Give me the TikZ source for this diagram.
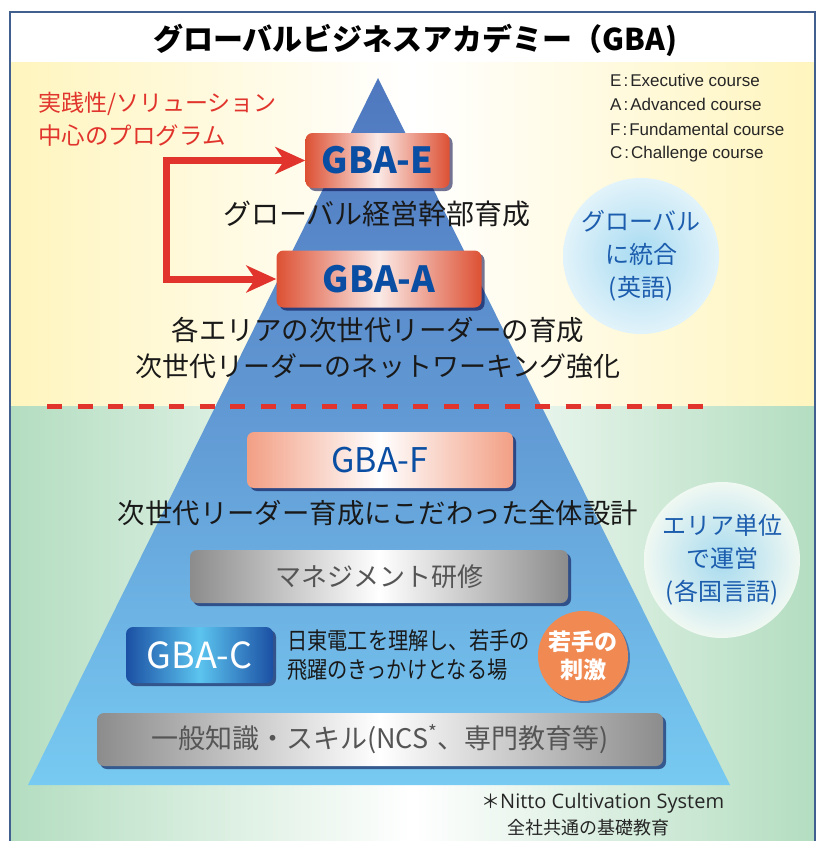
\documentclass[tikz,border=0pt]{standalone}
\usepackage{fontspec}
\usetikzlibrary{shadows,arrows.meta,calc}
\newfontfamily\jp{Noto Sans CJK JP}
\newfontfamily\jpn[FakeStretch=0.86]{Noto Sans CJK JP}
\newfontfamily\legendfont{Liberation Sans}
\newfontfamily\footfont{Open Sans}
\newcommand{\fsz}[2][]{\fontsize{#2}{#2}\selectfont}
\definecolor{framecol}{HTML}{41608F}
\definecolor{yellowbg}{HTML}{FFF5BE}
\definecolor{greenbg}{HTML}{B3DDC0}
\definecolor{pyrtop}{HTML}{4F78BF}
\definecolor{pyrmid}{HTML}{629BD5}
\definecolor{pyrbot}{HTML}{77CAF2}
\definecolor{redline}{HTML}{E0342C}
\definecolor{boxred}{HTML}{DD5134}
\definecolor{boxsalmon}{HTML}{F29F84}
\definecolor{boxgray}{HTML}{8C8C8C}
\definecolor{boxblue}{HTML}{1B50A4}
\definecolor{boxbluec}{HTML}{5CC4EF}
\definecolor{gbablue}{HTML}{0A4EA3}
\definecolor{textgray}{HTML}{555555}
\definecolor{bubbleblue}{HTML}{1C5DAE}
\definecolor{sparkorange}{HTML}{F08A52}
\definecolor{bubin}{HTML}{A6DAF1}
\definecolor{bubout}{HTML}{E2F3FA}
\tikzset{
  gbox/.style={rounded corners=7pt, inner sep=0pt,
    drop shadow={shadow xshift=3pt, shadow yshift=-3pt, opacity=.55, fill=black!75!blue}},
  redbox/.style={gbox, left color=boxred, right color=boxred, middle color=white!88!boxred},
  salmonbox/.style={gbox, left color=boxsalmon, right color=boxsalmon, middle color=white},
  graybox/.style={gbox, left color=boxgray, right color=boxgray, middle color=white},
  bluebox/.style={gbox, left color=boxblue, right color=boxblue, middle color=boxbluec},
  gbatext/.style={font=\jp\bfseries\fsz{36}, text=gbablue},
  lab/.style={font=\jp\fsz{27.5}, text=black!90},
  bubble/.style={circle, minimum size=156pt, inner sep=0pt, inner color=bubin, outer color=bubout,
    align=center, text=bubbleblue, font=\jp\fontsize{24}{33}\selectfont},
  redarrow/.style={draw=redline, line width=7pt,
    {Stealth[length=30pt,width=27pt,inset=9pt]}-{Stealth[length=30pt,width=27pt,inset=9pt]}},
  legend/.style={anchor=west, font=\legendfont\fsz{17}, text=black!85, inner sep=0pt},
}
\begin{document}
\begin{tikzpicture}[x=1pt,y=-1pt]
\useasboundingbox (0,0) rectangle (821,841);
\fill[white] (0,0) rectangle (821,841);
% background bands
\shade[left color=yellowbg, right color=yellowbg, middle color=white] (10,62) rectangle (815,406);
\shade[left color=greenbg, right color=greenbg, middle color=white] (10,406) rectangle (815,841);
\draw[framecol, line width=1.3pt] (10,845) -- (10,12) -- (815,12) -- (815,845);

% title
\node (title) at (412,40) {\jp\bfseries\fsz{30} グローバルビジネスアカデミー（GBA)};

% legend
\node[legend] (legE) at (610,80) {E\hspace{2pt}:\hspace{2pt}Executive course};
\node[legend] (legA) at (610,104.5) {A\hspace{2pt}:\hspace{2pt}Advanced course};
\node[legend] (legF) at (610,129) {F\hspace{2pt}:\hspace{2pt}Fundamental course};
\node[legend] (legC) at (610,154) {C\hspace{2pt}:\hspace{2pt}Challenge course};

% red program text
\node[anchor=west, inner sep=0pt, text=redline] (prog1) at (33,104) {\jp\fsz{23} 実践性/ソリューション};
\node[anchor=west, inner sep=0pt, text=redline] (prog2) at (33,136) {\jp\fsz{23.5} 中心のプログラム};

% bubbles
\node[bubble] (bub1) at (641,256) {グローバル\\に統合\\(英語)};
\node[bubble, inner color=bubin!95!greenbg, outer color=white!80!greenbg] (bub2) at (722,560) {エリア単位\\で運営\\(各国言語)};

% pyramid
\shade[top color=pyrtop, bottom color=pyrbot, middle color=pyrmid] (378,78) -- (730,785) -- (28,785) -- cycle;

% dashed divider
\draw[redline, line width=5pt, dash pattern=on 15pt off 15.5pt] (47,406) -- (712,406);

% boxes
\node[redbox, minimum width=144pt, minimum height=55pt, gbatext] (gbaE) at (377.5,160.5) {GBA-E};
\node[lab, font=\jp\fsz{28}] (labE) at (377,214) {グローバル経営幹部育成};
\node[redbox, minimum width=205pt, minimum height=57pt, gbatext] (gbaA) at (379,279) {GBA-A};
\node[lab] (labA1) at (378,330) {各エリアの次世代リーダーの育成};
\node[lab, font=\jp\fsz{27}] (labA2) at (378,366) {次世代リーダーのネットワーキング強化};

\node[salmonbox, minimum width=266pt, minimum height=56pt, font=\jp\fsz{34}, text=gbablue] (gbaF) at (380,460) {GBA-F};
\node[lab, font=\jp\fsz{27.4}] (labF) at (378,513) {次世代リーダー育成にこだわった全体設計};

\node[graybox, minimum width=378pt, minimum height=53pt, font=\jp\fsz{26}, text=textgray] (mgmt) at (379,576.5) {マネジメント研修};

\node[bluebox, minimum width=147pt, minimum height=56pt, font=\jp\fsz{36}, text=white] (gbaC) at (199.5,655) {GBA-C};
\node[anchor=west, inner sep=0pt, font=\jpn\fsz{23.5}, text=black!90] (cdesc1) at (287,641) {日東電工を理解し、若手の};
\node[anchor=west, inner sep=0pt, font=\jpn\fsz{23.5}, text=black!90] (cdesc2) at (287,670) {飛躍のきっかけとなる場};
\node[circle, fill=sparkorange, minimum size=90pt, inner sep=0pt, align=center, text=white,
      font=\jp\bfseries\fontsize{23}{28}\selectfont,
      drop shadow={shadow xshift=2pt, shadow yshift=-2pt, opacity=.35, fill=black!70!blue}] (spark) at (583,656) {若手の\\刺激};

\node[graybox, minimum width=566pt, minimum height=53pt, font=\jp\fsz{27}, text=textgray] (basic) at (380,739.5) {一般知識・スキル(NCS\textsuperscript{*}、専門教育等)};

% arrow bracket
\coordinate (elbow) at (166,220);
\draw[redarrow] (gbaE.west) -| (elbow) |- (gbaA.west);

% footnote
\node[anchor=west, inner sep=0pt, text=black!85] (foot1) at (481,803) {\jp\fsz{19}＊\footfont\fsz{20}Nitto Cultivation System};
\node[anchor=west, inner sep=0pt, text=black!85] (foot2) at (503,828) {\jp\fsz{18} 全社共通の基礎教育};
\end{tikzpicture}
\end{document}
